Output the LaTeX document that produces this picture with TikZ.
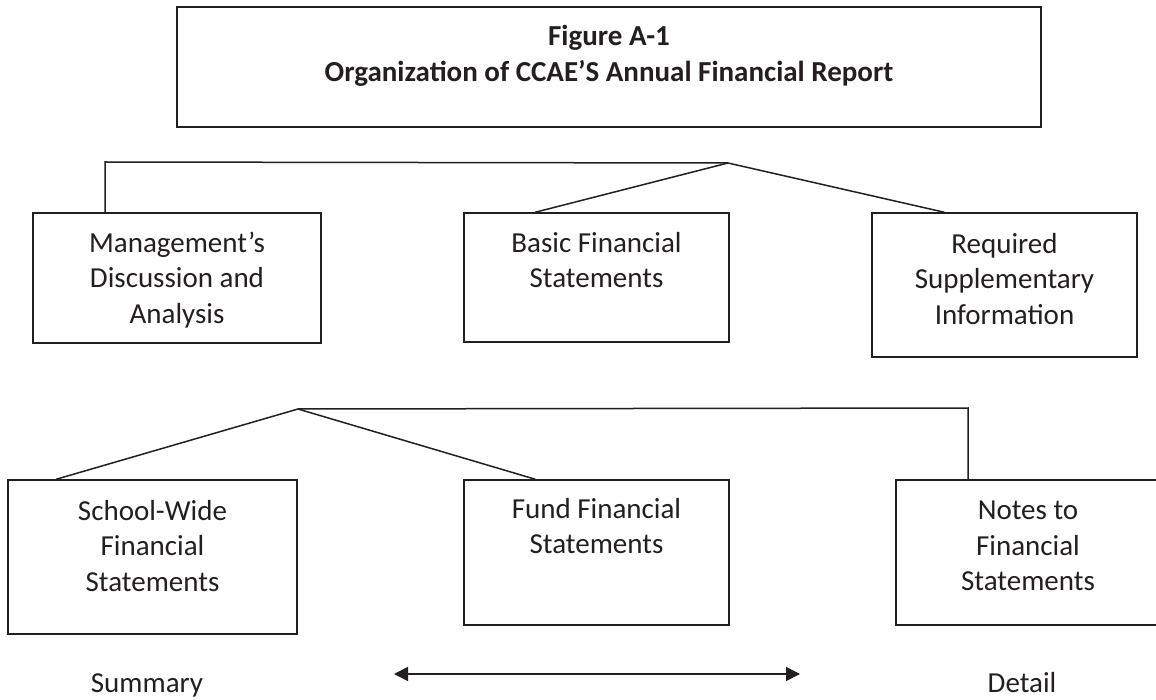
\documentclass[tikz,border=0pt]{standalone}
\usepackage{fontspec}
\setmainfont{Carlito}
\usetikzlibrary{arrows.meta,calc}
\definecolor{ink}{HTML}{231F20}
\tikzset{
  box/.style={draw=ink, line width=1.5pt, rectangle, inner sep=0pt},
  txt/.style={text=ink, font=\fontsize{29}{35.4}\selectfont, align=center, inner sep=0pt},
  ttl/.style={text=ink, font=\bfseries\fontsize{29}{36}\selectfont, align=center, inner sep=0pt},
  conn/.style={draw=ink, line width=1.5pt},
  dblarrow/.style={draw=ink, line width=1.5pt, {Triangle[length=14pt,width=14pt]}-{Triangle[length=14pt,width=14pt]}}
}
\begin{document}
\begin{tikzpicture}[x=1pt, y=-1pt]
\useasboundingbox (0,0) rectangle (1156,700);
\fill[white] (0,0) rectangle (1156,700);
\clip (0,0) rectangle (1156,700);

% title
\node[box, minimum width=864pt, minimum height=120pt] (title) at (609,67) {};
\node[ttl] (titletext) at (609,56) {Figure A-1\\Organization of CCAE’S Annual Financial Report};

% first level
\node[box, minimum width=288pt, minimum height=130pt] (mda) at (177,278) {};
\node[txt] (mdatext) at (177,280) {Management’s\\Discussion and\\Analysis};
\node[box, minimum width=265pt, minimum height=129pt] (bfs) at (596.5,277.5) {};
\node[txt] (bfstext) at (596.5,260) {Basic Financial\\Statements};
\node[box, minimum width=265pt, minimum height=144pt] (rsi) at (1004.5,285) {};
\node[txt] (rsitext) at (1004.5,279) {Required\\Supplementary\\Information};

% second level
\node[box, minimum width=289pt, minimum height=154pt] (sw) at (152.5,557) {};
\node[txt] (swtext) at (152.5,546) {School-Wide\\Financial\\Statements};
\node[box, minimum width=265pt, minimum height=145pt] (ffs) at (596.5,552.5) {};
\node[txt] (ffstext) at (596.5,526) {Fund Financial\\Statements};
\node[box, minimum width=264pt, minimum height=145pt] (nfs) at (1028,552.5) {};
\node[txt] (nfstext) at (1028,546) {Notes to\\Financial\\Statements};

% connectors, top level
\coordinate (corner1) at (105,162);
\coordinate (apex1) at (728,163);
\draw[conn] (corner1 |- mda.north) -- (corner1) -- (apex1);
\draw[conn] (apex1) -- ($(bfs.north west)+(72,0)$);
\draw[conn] (apex1) -- ($(rsi.north west)+(73,0)$);

% connectors, second level
\coordinate (apex2) at (298,409);
\coordinate (corner2) at (968,408);
\draw[conn] ($(sw.north west)+(49,0)$) -- (apex2) -- ($(ffs.north west)+(72,0)$);
\draw[conn] (apex2) -- (corner2) -- (corner2 |- nfs.north);

% scale arrow
\coordinate (arrL) at (394,674);
\coordinate (arrR) at (800,674);
\draw[dblarrow] (arrL) -- (arrR);
\node[txt, anchor=base] (summary) at (147,692) {Summary};
\node[txt, anchor=base] (detail) at (1022,692) {Detail};
\end{tikzpicture}
\end{document}
